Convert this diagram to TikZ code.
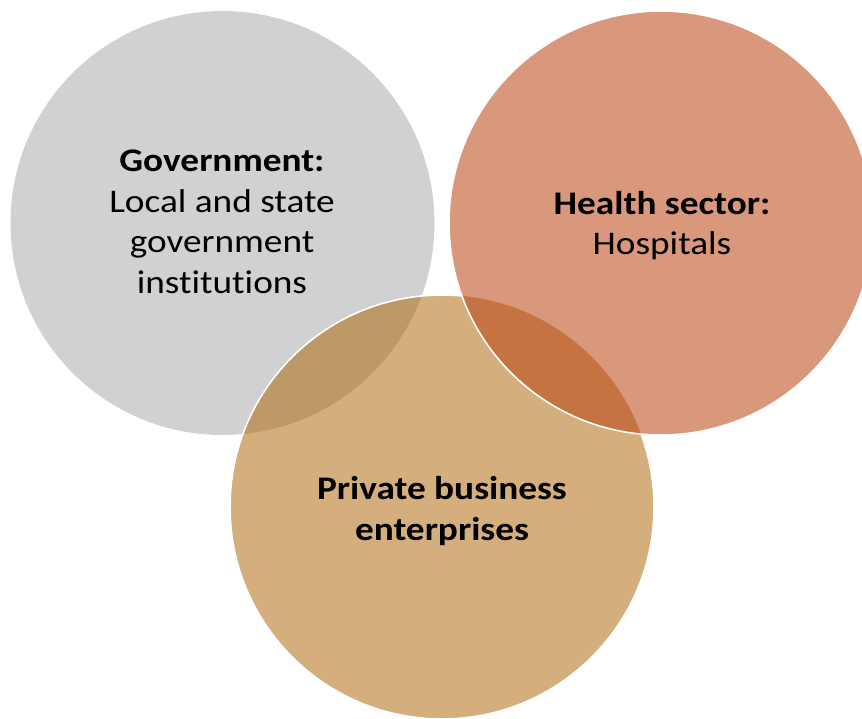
\documentclass[tikz,border=0pt]{standalone}
\usepackage{fontspec}
\setmainfont{Carlito}[FakeStretch=1.13, Ligatures=NoCommon]
\definecolor{govfill}{HTML}{D1D1D1}
\definecolor{healthfill}{HTML}{D9977C}
\definecolor{privfill}{HTML}{D4AF7D}
\definecolor{govpriv}{HTML}{BE9968}
\definecolor{healthpriv}{HTML}{C47341}
\tikzset{
  venntext/.style={align=center, text=black, font=\fontsize{33}{40.5}\selectfont, inner sep=0pt},
  rim/.style={draw=white, line width=1.6pt}
}
\begin{document}
\begin{tikzpicture}[x=1pt,y=-1pt]
\useasboundingbox (0,0) rectangle (862,718);
\coordinate (cg) at (222.5,223);
\coordinate (cs) at (661,223);
\coordinate (ct) at (442,507);
% government circle
\fill[govfill] (cg) circle[radius=212pt];
% private circle
\fill[privfill] (ct) circle[radius=212pt];
\begin{scope}
  \clip (cg) circle[radius=212pt];
  \fill[govpriv] (ct) circle[radius=212pt];
\end{scope}
\path[rim] (ct) circle[radius=212pt];
% health circle
\fill[healthfill] (cs) circle[radius=212pt];
\begin{scope}
  \clip (cs) circle[radius=212pt];
  \fill[healthpriv] (ct) circle[radius=212pt];
\end{scope}
\path[rim] (cs) circle[radius=212pt];
% labels
\node[venntext] (gov) at (222,222) {\textbf{Government:}\\Local and state\\government\\institutions};
\node[venntext] (health) at (662,225.5) {\textbf{Health sector:}\\Hospitals};
\node[venntext] (priv) at (442,511) {\textbf{Private business}\\\textbf{enterprises}};
\end{tikzpicture}
\end{document}
